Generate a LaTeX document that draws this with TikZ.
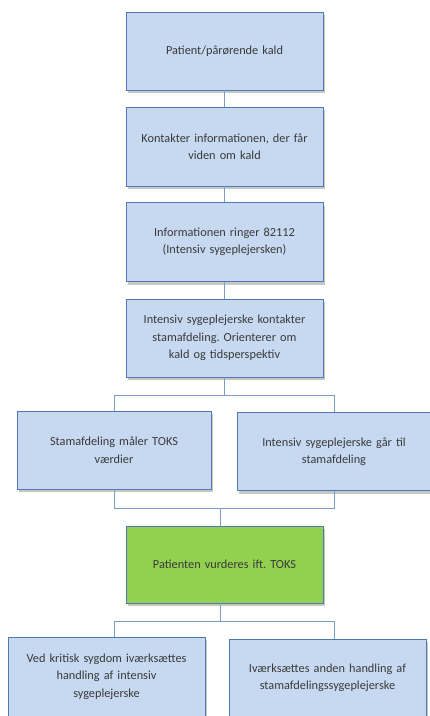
\documentclass[tikz,border=0pt]{standalone}
\usepackage{fontspec}
\setmainfont{Carlito}
\frenchspacing
\usetikzlibrary{shadows,calc}
\definecolor{boxfill}{HTML}{C6D9F1}
\definecolor{boxline}{HTML}{5078B4}
\definecolor{conline}{HTML}{7A9CCB}
\definecolor{greenfill}{HTML}{92D050}
\definecolor{txt}{HTML}{3A3A3A}
\tikzset{
  box/.style={draw=boxline, line width=0.9pt, fill=boxfill, minimum width=197pt, minimum height=78pt,
    text width=186pt, align=center, inner sep=0pt, text=txt,
    font=\fontsize{12.3pt}{17.5pt}\selectfont,
    general shadow={shadow xshift=1.5pt, shadow yshift=-3pt, fill=black, opacity=0.22}},
  conn/.style={draw=conline, line width=1pt}
}
\begin{document}
\begin{tikzpicture}[x=1pt,y=-1pt]
\useasboundingbox (0,0) rectangle (430,716);
\clip (0,0) rectangle (430,716);
\node[box] (b1) at (224.5,51) {Patient/pårørende kald};
\node[box, minimum height=79pt] (b2) at (224.5,146.5) {Kontakter informationen, der får\\viden om kald};
\node[box, minimum height=79pt] (b3) at (224.5,242) {Informationen ringer 82112\\(Intensiv sygeplejersken)};
\node[box] (b4) at (224.5,338) {Intensiv sygeplejerske kontakter\\stamafdeling. Orienterer om\\kald og tidsperspektiv};
\node[box, minimum width=194pt] (l1) at (114,450) {Stamafdeling måler TOKS\\værdier};
\node[box, minimum width=194pt] (r1) at (334,451.6) {Intensiv sygeplejerske går til\\stamafdeling};
\node[box, fill=greenfill, minimum height=77pt] (g) at (224.5,564.5) {Patienten vurderes ift. TOKS};
\node[box, minimum height=79pt] (bl) at (106.5,676.5) {Ved kritisk sygdom iværksættes\\handling af intensiv\\sygeplejerske};
\node[box] (br) at (327.5,678) {Iværksættes anden handling af\\stamafdelingssygeplejerske};

\coordinate (s1) at (224,395);
\coordinate (s2) at (220,508);
\coordinate (s3) at (220,621.7);

\draw[conn] (b1.south -| 224,0) -- (b2.north -| 224,0);
\draw[conn] (b2.south -| 224,0) -- (b3.north -| 224,0);
\draw[conn] (b3.south -| 224,0) -- (b4.north -| 224,0);
\draw[conn] (b4.south -| s1) -- (s1);
\draw[conn] (l1.north) -- (l1.north |- s1) -- (r1.north |- s1) -- (r1.north);
\draw[conn] (l1.south) -- (l1.south |- s2) -- (r1.south |- s2) -- (r1.south);
\draw[conn] (s2) -- (s2 |- g.north);
\draw[conn] (g.south -| s3) -- (s3);
\draw[conn] (bl.north -| 114,0) -- (114,621.7) -- (334,621.7) -- (br.north -| 334,0);
\end{tikzpicture}
\end{document}
